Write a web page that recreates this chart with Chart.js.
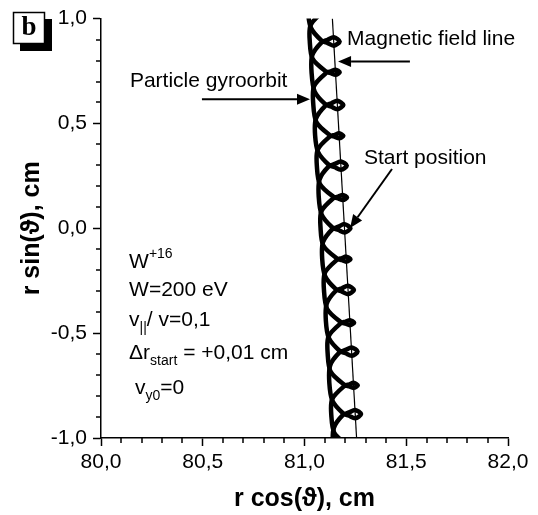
<!DOCTYPE html>
<html>
<head>
<meta charset="utf-8">
<script src="https://cdn.jsdelivr.net/npm/chart.js@4.4.0/dist/chart.umd.min.js"></script>
<style>
  html, body { margin: 0; padding: 0; background: #fff; }
  #wrap { width: 538px; height: 515px; }
</style>
</head>
<body>
<div id="wrap"><canvas id="gyroChart" width="538" height="515"></canvas></div>
<script>
// magnetic field line (end points)
const fieldLineX = [81.137, 81.256];
const fieldLineY = [1.0, -1.0];

// gyroorbit, pass with the big loops (0.89, 0.59, 0.30, 0.0, -0.29 ...)
const orbitPassA = [
  [81.021, 1.120], [81.017, 1.039], [81.032, 0.955],
  [81.084, 0.895], [81.114, 0.883], [81.144, 0.871], [81.173, 0.891],
  [81.144, 0.911], [81.114, 0.899], [81.084, 0.887],
  [81.038, 0.825], [81.035, 0.740], [81.050, 0.652],
  [81.102, 0.592], [81.132, 0.580], [81.162, 0.568], [81.191, 0.588],
  [81.162, 0.608], [81.132, 0.596], [81.102, 0.584],
  [81.056, 0.522], [81.052, 0.444], [81.067, 0.363],
  [81.119, 0.303], [81.149, 0.291], [81.179, 0.279], [81.208, 0.299],
  [81.179, 0.319], [81.149, 0.307], [81.119, 0.295],
  [81.074, 0.233], [81.070, 0.150], [81.085, 0.064],
  [81.137, 0.004], [81.167, -0.008], [81.197, -0.020], [81.226, 0.000],
  [81.197, 0.020], [81.167, 0.008], [81.137, -0.004],
  [81.091, -0.066], [81.087, -0.147], [81.102, -0.230],
  [81.154, -0.290], [81.184, -0.302], [81.214, -0.314], [81.243, -0.294],
  [81.214, -0.274], [81.184, -0.286], [81.154, -0.298],
  [81.109, -0.360], [81.105, -0.441], [81.120, -0.524],
  [81.172, -0.584], [81.202, -0.596], [81.232, -0.608], [81.261, -0.588],
  [81.232, -0.568], [81.202, -0.580], [81.172, -0.592],
  [81.126, -0.654], [81.122, -0.737], [81.137, -0.822],
  [81.189, -0.882], [81.219, -0.894], [81.249, -0.906], [81.278, -0.886],
  [81.249, -0.866], [81.219, -0.878], [81.189, -0.890],
  [81.144, -0.952], [81.140, -1.033], [81.155, -1.116]
];

// gyroorbit, pass with the small loops (0.74, 0.44, 0.15, -0.15 ...)
const orbitPassB = [
  [81.156, 1.035], [81.135, 1.047], [81.115, 1.040], [81.090, 1.032],
  [81.030, 0.969], [81.026, 0.890], [81.040, 0.808],
  [81.107, 0.747], [81.132, 0.739], [81.152, 0.732], [81.173, 0.744],
  [81.152, 0.756], [81.132, 0.749], [81.107, 0.741],
  [81.047, 0.678], [81.043, 0.593], [81.059, 0.505],
  [81.125, 0.444], [81.150, 0.436], [81.170, 0.429], [81.191, 0.441],
  [81.170, 0.453], [81.150, 0.446], [81.125, 0.438],
  [81.065, 0.375], [81.061, 0.294], [81.076, 0.211],
  [81.143, 0.150], [81.168, 0.142], [81.188, 0.135], [81.209, 0.147],
  [81.188, 0.159], [81.168, 0.152], [81.143, 0.144],
  [81.083, 0.081], [81.079, 0.000], [81.093, -0.083],
  [81.160, -0.144], [81.185, -0.152], [81.205, -0.159], [81.226, -0.147],
  [81.205, -0.135], [81.185, -0.142], [81.160, -0.150],
  [81.100, -0.213], [81.096, -0.299], [81.112, -0.386],
  [81.178, -0.447], [81.203, -0.455], [81.223, -0.462], [81.244, -0.450],
  [81.223, -0.438], [81.203, -0.445], [81.178, -0.453],
  [81.118, -0.516], [81.114, -0.600], [81.129, -0.685],
  [81.196, -0.746], [81.221, -0.754], [81.241, -0.761], [81.262, -0.749],
  [81.241, -0.737], [81.221, -0.744], [81.196, -0.752],
  [81.136, -0.815], [81.132, -0.895], [81.147, -0.976], [81.210, -1.034]
];

// axis limits
const xRange = [80, 82];
const yRange = [-1, 1];
const majorStep = 0.5;
const minorStep = 0.1;

// labels with arrows (data units)
const labelNotes = [
  { text: 'Magnetic field line', x: 81.209, y: 0.900 },
  { text: 'Particle gyroorbit', x: 80.142, y: 0.701 },
  { text: 'Start position', x: 81.292, y: 0.335 }
];
const labelArrows = [
  { from: [81.518, 0.796], to: [81.165, 0.796] },
  { from: [80.496, 0.615], to: [81.027, 0.615] },
  { from: [81.430, 0.283], to: [81.224, 0.002] }
];

// run parameters
const paramX = 80.138;
const paramY = [-0.164, -0.297, -0.439, -0.596, -0.762];
const paramLines = [
  [{ t: 'W' }, { t: '+16', sup: true }],
  [{ t: 'W=200 eV' }],
  [{ t: 'v' }, { t: '||', sub: true }, { t: '/ v=0,1' }],
  [{ t: '\u0394r' }, { t: 'start', sub: true }, { t: ' = +0,01 cm' }],
  [{ t: ' v' }, { t: 'y0', sub: true }, { t: '=0' }]
];

const family = '"Liberation Sans", Arial, Helvetica, sans-serif';
const fmt = v => v.toFixed(1).replace('.', ',');
const toPts = arr => arr.map(([x, y]) => ({ x, y }));

function drawArrow(ctx, x1, y1, x2, y2) {
  const ang = Math.atan2(y2 - y1, x2 - x1);
  const len = 13, half = 5.5;
  const bx = x2 - len * Math.cos(ang), by = y2 - len * Math.sin(ang);
  ctx.beginPath();
  ctx.moveTo(x1, y1);
  ctx.lineTo(bx, by);
  ctx.stroke();
  ctx.beginPath();
  ctx.moveTo(x2, y2);
  ctx.lineTo(bx + half * Math.sin(ang), by - half * Math.cos(ang));
  ctx.lineTo(bx - half * Math.sin(ang), by + half * Math.cos(ang));
  ctx.closePath();
  ctx.fill();
}

function drawRich(ctx, x, y, parts) {
  let cx = x;
  parts.forEach(p => {
    const small = p.sub || p.sup;
    ctx.font = (small ? 14 : 21) + 'px ' + family;
    const dy = p.sub ? 8 : (p.sup ? -9 : 0);
    ctx.fillText(p.t, cx, y + dy);
    cx += ctx.measureText(p.t).width;
  });
}

const extras = {
  id: 'extras',
  afterDraw(chart) {
    const { ctx, chartArea, scales: { x, y } } = chart;
    ctx.save();
    ctx.strokeStyle = '#000';
    ctx.fillStyle = '#000';

    // minor ticks
    ctx.lineWidth = 1.5;
    const nx = Math.round((x.max - x.min) / minorStep);
    for (let i = 0; i <= nx; i++) {
      if (i % 5 === 0) continue;
      const px = Math.round(x.getPixelForValue(x.min + i * minorStep));
      ctx.beginPath();
      ctx.moveTo(px, chartArea.bottom);
      ctx.lineTo(px, chartArea.bottom + 5);
      ctx.stroke();
    }
    const ny = Math.round((y.max - y.min) / minorStep);
    for (let i = 0; i <= ny; i++) {
      if (i % 5 === 0) continue;
      const py = Math.round(y.getPixelForValue(y.min + i * minorStep));
      ctx.beginPath();
      ctx.moveTo(chartArea.left, py);
      ctx.lineTo(chartArea.left - 5, py);
      ctx.stroke();
    }

    // notes and arrows
    ctx.textBaseline = 'middle';
    ctx.textAlign = 'left';
    ctx.font = '21px ' + family;
    labelNotes.forEach(n => {
      ctx.fillText(n.text, x.getPixelForValue(n.x), y.getPixelForValue(n.y));
    });
    ctx.lineWidth = 2;
    labelArrows.forEach(a => {
      drawArrow(ctx,
        x.getPixelForValue(a.from[0]), y.getPixelForValue(a.from[1]),
        x.getPixelForValue(a.to[0]), y.getPixelForValue(a.to[1]));
    });

    // parameters block
    paramLines.forEach((line, i) => {
      drawRich(ctx, x.getPixelForValue(paramX), y.getPixelForValue(paramY[i]), line);
    });

    // panel letter
    ctx.fillRect(20, 19, 32, 32);
    ctx.fillStyle = '#fff';
    ctx.fillRect(13, 12, 32, 32);
    ctx.lineWidth = 1.5;
    ctx.strokeRect(13.5, 12.5, 31, 31);
    ctx.fillStyle = '#000';
    ctx.textAlign = 'center';
    ctx.font = 'bold 27px "Liberation Serif", "Times New Roman", serif';
    ctx.fillText('b', 29, 28);
    ctx.restore();
  }
};

const orbitStyle = {
  showLine: true,
  borderColor: '#000',
  borderWidth: 4.5,
  borderJoinStyle: 'round',
  borderCapStyle: 'round',
  tension: 0.3,
  pointRadius: 0
};

new Chart(document.getElementById('gyroChart'), {
  type: 'scatter',
  data: {
    datasets: [
      {
        label: 'Magnetic field line',
        data: fieldLineX.map((v, i) => ({ x: v, y: fieldLineY[i] })),
        showLine: true,
        borderColor: '#000',
        borderWidth: 1.2,
        pointRadius: 0
      },
      Object.assign({ label: 'Particle gyroorbit', data: toPts(orbitPassA) }, orbitStyle),
      Object.assign({ label: 'Particle gyroorbit (2)', data: toPts(orbitPassB) }, orbitStyle)
    ]
  },
  options: {
    responsive: false,
    animation: false,
    layout: { padding: { top: 17, right: 30, left: 0, bottom: 0 } },
    plugins: {
      legend: { display: false },
      tooltip: { enabled: false }
    },
    scales: {
      x: {
        type: 'linear',
        min: xRange[0],
        max: xRange[1],
        afterFit: s => { s.height = 77; },
        ticks: {
          stepSize: majorStep,
          color: '#000',
          padding: 4,
          maxRotation: 0,
          font: { size: 21, family },
          callback: v => fmt(v)
        },
        grid: { drawOnChartArea: false, drawTicks: true, tickLength: 8, color: '#000', tickWidth: 1.5 },
        border: { display: true, color: '#000', width: 1.5 },
        title: {
          display: true,
          text: 'r cos(\u03D1), cm',
          color: '#000',
          font: { size: 25, weight: 'bold', family },
          padding: { top: 0, bottom: 1 }
        }
      },
      y: {
        type: 'linear',
        min: yRange[0],
        max: yRange[1],
        afterFit: s => { s.width = 101; },
        ticks: {
          stepSize: majorStep,
          color: '#000',
          padding: 6,
          font: { size: 21, family },
          callback: v => fmt(v)
        },
        grid: { drawOnChartArea: false, drawTicks: true, tickLength: 8, color: '#000', tickWidth: 1.5 },
        border: { display: true, color: '#000', width: 1.5 },
        title: {
          display: true,
          text: 'r sin(\u03D1), cm',
          color: '#000',
          font: { size: 25, weight: 'bold', family },
          padding: { top: 17, bottom: 0 }
        }
      }
    }
  },
  plugins: [extras]
});
</script>
</body>
</html>
